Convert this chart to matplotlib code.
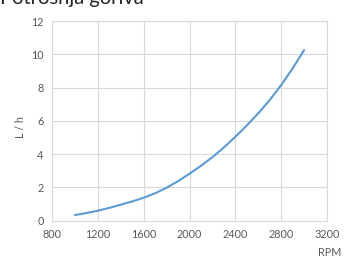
import matplotlib
matplotlib.use("Agg")
import matplotlib.pyplot as plt

rpm = [1000, 1100, 1200, 1300, 1400, 1500, 1600, 1700, 1800, 1900, 2000,
       2100, 2200, 2300, 2400, 2500, 2600, 2700, 2800, 2900, 3000]
lph = [0.34, 0.46, 0.60, 0.77, 0.96, 1.16, 1.38, 1.65, 1.98, 2.38, 2.82,
       3.30, 3.82, 4.40, 5.04, 5.72, 6.45, 7.25, 8.15, 9.15, 10.25]
xticks = [800, 1200, 1600, 2000, 2400, 2800, 3200]
yticks = [0, 2, 4, 6, 8, 10, 12]

plt.rcParams['font.family'] = ['Lato', 'DejaVu Sans']
fig = plt.figure(figsize=(3.55, 2.62), dpi=100)
ax = fig.add_axes([52/355, 1-220.7/262, (327-52)/355, (220.7-21)/262])
ax.plot(rpm, lph, color='#5b9bd5', lw=1.5, solid_capstyle='round', solid_joinstyle='round')
ax.set_xlim(800, 3200)
ax.set_ylim(0, 12)
ax.set_xticks(xticks)
ax.set_yticks(yticks)
ax.grid(True, color='#d9d9d9', lw=0.8)
ax.set_axisbelow(True)
for s in ax.spines.values():
    s.set_color('#d9d9d9')
    s.set_linewidth(0.8)
ax.tick_params(length=0, colors='#595959', labelsize=7.8, pad=6)
fig.text(20/355, 1-127/262, 'L / h', rotation=90, ha='center', va='center', fontsize=7.8, color='#595959')
fig.text(330/355, 1-253/262, 'RPM', ha='center', va='center', fontsize=7.8, color='#595959')
fig.text(0/355, 1-4/262, 'Potrošnja goriva', ha='left', va='baseline', fontsize=14.5, color='#222222')
fig.savefig('out.png', dpi=100)
